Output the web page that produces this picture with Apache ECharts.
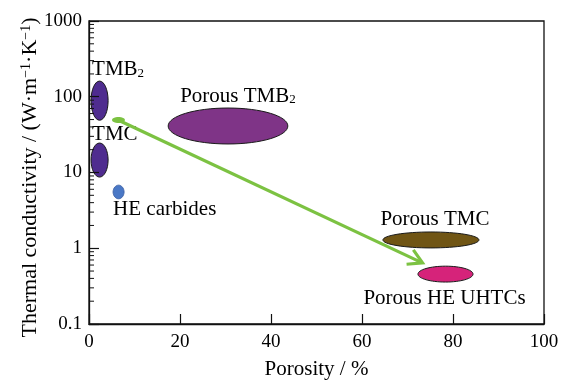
<!DOCTYPE html>
<html>
<head>
<meta charset="utf-8">
<script src="https://cdn.jsdelivr.net/npm/echarts@6/dist/echarts.min.js"></script>
<style>
html,body{margin:0;padding:0;background:#fff;}
#chart{width:568px;height:381px;}
</style>
</head>
<body>
<div id="chart"></div>
<script>
// ---- data ----
const categories = ['TMB2', 'TMC', 'HE carbides', 'Porous TMB2', 'Porous TMC', 'Porous HE UHTCs'];
const porosityMin = [0.45, 0.45, 5.3, 17.4, 64.6, 72.3];
const porosityMax = [4.2, 4.2, 7.7, 43.7, 85.7, 84.4];
const conductivityMin = [49, 8.7, 4.5, 23.8, 1.01, 0.358];
const conductivityMax = [161, 24.5, 6.8, 71, 1.64, 0.58];

// trend arrow: start (porosity, conductivity) -> end
const trendStart = [6.5, 49];
const trendEnd = [73.3, 0.64];
const trendTailPorosity = [5.05, 7.9];
const trendTailConductivity = [45, 54];

const xTickLabels = ['0', '20', '40', '60', '80', '100'];
const yTickValues = [0.1, 1, 10, 100, 1000];
const yTickLabels = ['0.1', '1', '10', '100', '1000'];
const minorMultipliers = [2, 3, 4, 5, 6, 7, 8, 9];

// ---- styles ----
const FONT = "'Liberation Serif', 'Times New Roman', serif";
const fills = ['#4f2c8f', '#4f2c8f', '#4a78c6', '#7f3487', '#705514', '#d6237a'];
const strokes = ['#1a1a1a', '#1a1a1a', '#3f63a8', '#1a1a1a', '#1a1a1a', '#1a1a1a'];
// label placement relative to ellipse bbox: [anchor, dx, dy, align]
const labelPlace = [
  ['tl', 1, -12, 'left'],
  ['tl', 1, -9, 'left'],
  ['bl', 0, 11, 'left'],
  ['tl', 12, -12, 'left'],
  ['tc', 4, -12, 'center'],
  ['bc', -1, 16, 'center']
];
const GREEN = '#7cc242';

function richName(n) {
  return n.replace(/B2$/, 'B{s|2}');
}
const labelRich = {
  s: { fontSize: 13, fontFamily: FONT, color: '#000', verticalAlign: 'bottom', lineHeight: 13 }
};

const regionData = categories.map((c, i) => [porosityMin[i], porosityMax[i], conductivityMin[i], conductivityMax[i]]);

const minorTicks = [];
yTickValues.slice(0, -1).forEach(d => minorMultipliers.forEach(m => minorTicks.push([0, +(d * m).toPrecision(3)])));

const chart = echarts.init(document.getElementById('chart'), null, { renderer: 'canvas' });

chart.setOption({
  animation: false,
  backgroundColor: '#fff',
  grid: { left: 89, right: 24, top: 21, bottom: 57, outerBoundsMode: 'none', containLabel: false,
    show: true, borderColor: '#111', borderWidth: 1.3, backgroundColor: 'transparent' },
  xAxis: {
    type: 'value', min: 0, max: 100, interval: 20, z: 10,
    axisLine: { lineStyle: { color: '#111', width: 1.3 } },
    axisTick: { inside: true, length: 10, lineStyle: { color: '#111', width: 1.2 } },
    splitLine: { show: false },
    axisLabel: { margin: 9, fontSize: 19, color: '#000', fontFamily: FONT,
      formatter: v => xTickLabels[Math.round(v / 20)] },
    name: 'Porosity / %', nameLocation: 'middle', nameGap: 35,
    nameTextStyle: { fontSize: 21, color: '#000', fontFamily: FONT }
  },
  yAxis: {
    type: 'log', logBase: 10, min: 0.1, max: 1000, z: 10,
    axisLine: { lineStyle: { color: '#111', width: 1.3 } },
    axisTick: { inside: true, length: 10, lineStyle: { color: '#111', width: 1.2 } },
    minorTick: { show: false },
    splitLine: { show: false },
    axisLabel: { margin: 7, fontSize: 19, color: '#000', fontFamily: FONT,
      formatter: v => yTickLabels[Math.round(Math.log10(v)) + 1] },
    name: 'Thermal conductivity / (W·m{p|−1}·K{p|−1})', nameLocation: 'middle', nameGap: 48,
    nameMoveOverlap: false,
    nameTextStyle: { fontSize: 22, color: '#000', fontFamily: FONT, padding: [0, 10, 0, 0],
      rich: { p: { fontSize: 14, fontFamily: FONT, color: '#000', verticalAlign: 'top', lineHeight: 14 } } }
  },
  series: [
    {
      type: 'custom', z: 3, clip: false,
      data: regionData,
      renderItem: function (params, api) {
        const i = params.dataIndex;
        const p0 = api.coord([api.value(0), api.value(3)]);
        const p1 = api.coord([api.value(1), api.value(2)]);
        const cx = (p0[0] + p1[0]) / 2, cy = (p0[1] + p1[1]) / 2;
        const rx = Math.abs(p1[0] - p0[0]) / 2, ry = Math.abs(p1[1] - p0[1]) / 2;
        const lp = labelPlace[i];
        let tx, ty;
        const top = cy - ry, bottom = cy + ry, left = cx - rx;
        if (lp[0] === 'tl') { tx = left + lp[1]; ty = top + lp[2]; }
        else if (lp[0] === 'bl') { tx = left + lp[1]; ty = bottom + lp[2]; }
        else if (lp[0] === 'tc') { tx = cx + lp[1]; ty = top + lp[2]; }
        else { tx = cx + lp[1]; ty = bottom + lp[2]; }
        return {
          type: 'group',
          children: [
            { type: 'ellipse', shape: { cx: cx, cy: cy, rx: rx, ry: ry },
              style: { fill: fills[i], stroke: strokes[i], lineWidth: 1 } },
            { type: 'text', x: tx, y: ty,
              style: { text: richName(categories[i]), fontSize: 21, fontFamily: FONT, fill: '#000',
                align: lp[3], verticalAlign: 'middle', rich: labelRich } }
          ]
        };
      }
    },
    {
      type: 'custom', z: 4, clip: false,
      data: [[trendStart[0], trendStart[1], trendEnd[0], trendEnd[1]]],
      renderItem: function (params, api) {
        const a = api.coord([api.value(0), api.value(1)]);
        const b = api.coord([api.value(2), api.value(3)]);
        const t0 = api.coord([trendTailPorosity[0], trendTailConductivity[1]]);
        const t1 = api.coord([trendTailPorosity[1], trendTailConductivity[0]]);
        const ang = Math.atan2(b[1] - a[1], b[0] - a[0]);
        const L = 16, w = 0.52;
        const w1 = [b[0] - L * Math.cos(ang - w), b[1] - L * Math.sin(ang - w)];
        const w2 = [b[0] - L * Math.cos(ang + w), b[1] - L * Math.sin(ang + w)];
        const e = [b[0] - 2 * Math.cos(ang), b[1] - 2 * Math.sin(ang)];
        return {
          type: 'group',
          children: [
            { type: 'ellipse', shape: { cx: (t0[0] + t1[0]) / 2, cy: (t0[1] + t1[1]) / 2,
                rx: Math.abs(t1[0] - t0[0]) / 2, ry: Math.abs(t1[1] - t0[1]) / 2 },
              style: { fill: GREEN } },
            { type: 'line', shape: { x1: a[0], y1: a[1], x2: e[0], y2: e[1] },
              style: { stroke: GREEN, lineWidth: 3.2 } },
            { type: 'polyline', shape: { points: [w1, b, w2] },
              style: { stroke: GREEN, lineWidth: 3.2, fill: null, lineJoin: 'miter' } }
          ]
        };
      }
    },
    {
      type: 'custom', z: 20, clip: false, silent: true,
      data: minorTicks,
      renderItem: function (params, api) {
        const p = api.coord([api.value(0), api.value(1)]);
        return { type: 'line', shape: { x1: p[0], y1: p[1], x2: p[0] + 5, y2: p[1] },
          style: { stroke: '#111', lineWidth: 1 } };
      }
    }
  ]
});
</script>
</body>
</html>
